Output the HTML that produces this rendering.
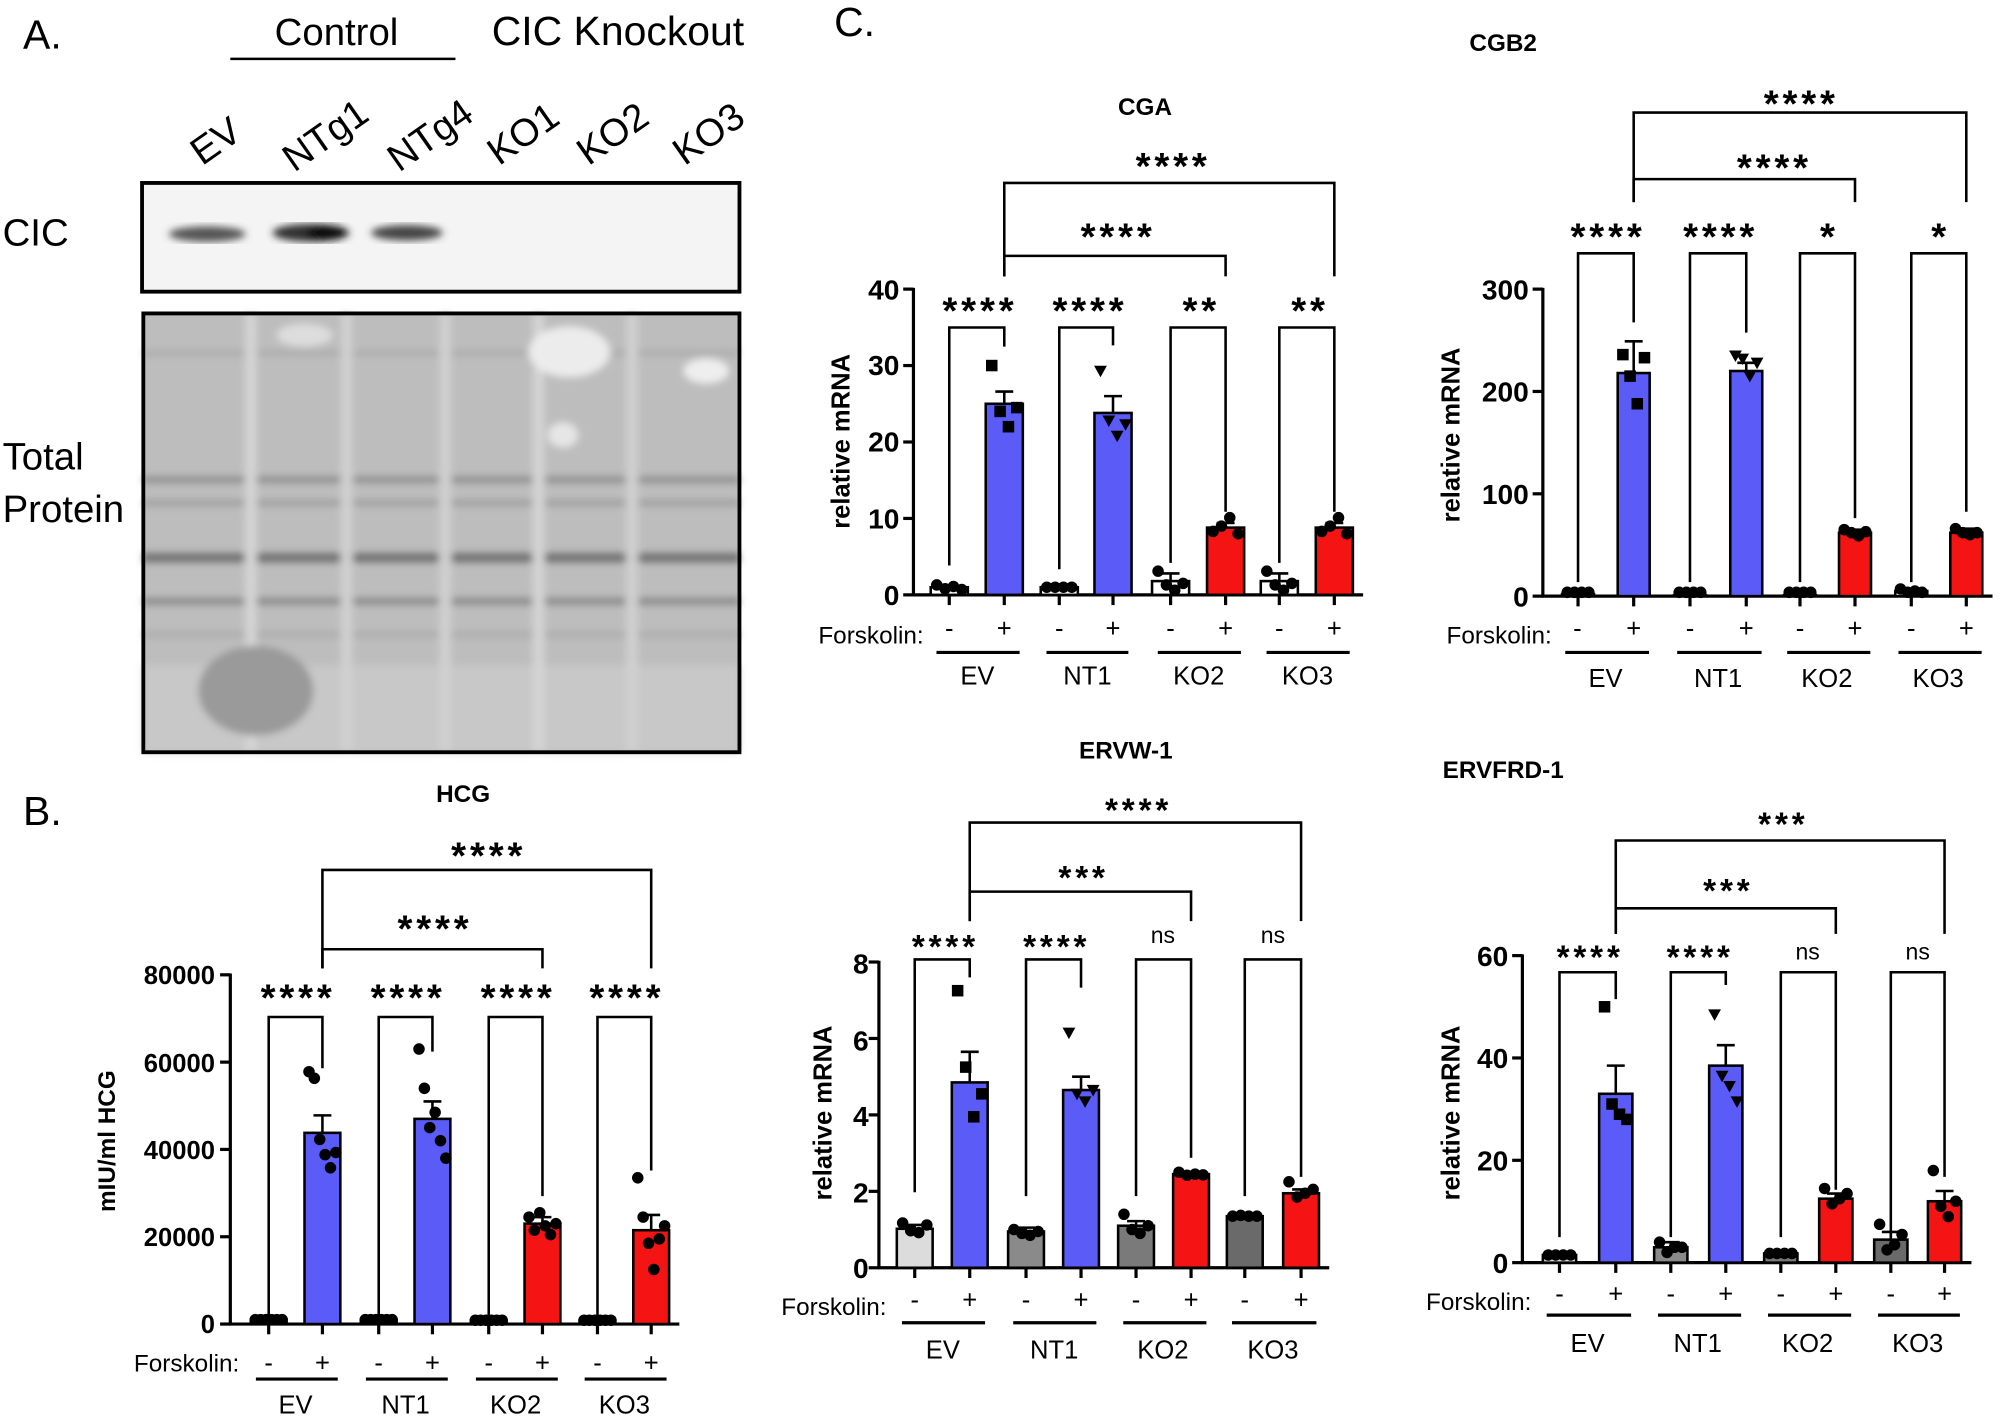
<!DOCTYPE html>
<html><head><meta charset="utf-8"><style>
html,body{margin:0;padding:0;background:#fff}
svg{display:block}
text{font-family:"Liberation Sans",Arial,sans-serif;fill:#000}
.b{font-weight:bold}
</style></head><body>
<svg id="s" width="2006" height="1420" viewBox="0 0 1568 1110" xmlns="http://www.w3.org/2000/svg">
<defs>
<filter id="bl"><feGaussianBlur stdDeviation="3"/></filter>
</defs>
<!-- Panel A -->
<text x="18" y="38" font-size="32">A.</text>
<text x="263" y="35" font-size="30" text-anchor="middle">Control</text>
<line x1="180" y1="46" x2="356" y2="46" stroke="#000" stroke-width="2"/>
<text x="483" y="35" font-size="32" text-anchor="middle">CIC Knockout</text>
<text transform="translate(158,130) rotate(-35)" font-size="30">EV</text>
<text transform="translate(230,135) rotate(-35)" font-size="30">NTg1</text>
<text transform="translate(312,135) rotate(-35)" font-size="30">NTg4</text>
<text transform="translate(390,130) rotate(-35)" font-size="30">KO1</text>
<text transform="translate(460,130) rotate(-35)" font-size="30">KO2</text>
<text transform="translate(535,130) rotate(-35)" font-size="30">KO3</text>
<text x="2" y="192" font-size="30">CIC</text>
<rect x="111" y="143" width="467" height="85" fill="#f4f4f4" stroke="#000" stroke-width="3"/>
<g filter="url(#bl)">
<ellipse cx="162" cy="183" rx="30" ry="6" fill="#555"/>
<ellipse cx="243" cy="182" rx="30" ry="7" fill="#333"/>
<ellipse cx="255" cy="182" rx="16" ry="6" fill="#111"/>
<ellipse cx="318" cy="182" rx="28" ry="6" fill="#444"/>
</g>
<text x="2" y="367" font-size="30">Total</text>
<text x="2" y="408" font-size="30">Protein</text>
<rect x="112" y="245" width="466" height="343" fill="#bdbdbd"/>
<g filter="url(#bl)" fill="none">
<line x1="112" y1="276" x2="578" y2="276" stroke-width="3" stroke="#a5a5a5"/>
<line x1="112" y1="375" x2="578" y2="375" stroke-width="5" stroke="#8d8d8d"/>
<line x1="112" y1="393" x2="578" y2="393" stroke-width="4" stroke="#999"/>
<line x1="112" y1="436" x2="578" y2="436" stroke-width="7" stroke="#6e6e6e"/>
<line x1="112" y1="470" x2="578" y2="470" stroke-width="5" stroke="#858585"/>
<line x1="112" y1="496" x2="578" y2="496" stroke-width="4" stroke="#aaa"/>
<rect x="112" y="520" width="466" height="68" fill="#c8c8c8" stroke="none"/>
<line x1="196" y1="245" x2="196" y2="588" stroke-width="9" stroke="#d4d4d4"/>
<line x1="271" y1="245" x2="271" y2="588" stroke-width="9" stroke="#d0d0d0"/>
<line x1="348" y1="245" x2="348" y2="588" stroke-width="9" stroke="#d0d0d0"/>
<line x1="421" y1="245" x2="421" y2="588" stroke-width="9" stroke="#d4d4d4"/>
<line x1="494" y1="245" x2="494" y2="588" stroke-width="9" stroke="#d0d0d0"/>
<ellipse cx="445" cy="275" rx="32" ry="20" fill="#ececec" stroke="none"/>
<ellipse cx="552" cy="290" rx="18" ry="10" fill="#eeeeee" stroke="none"/>
<ellipse cx="238" cy="262" rx="22" ry="9" fill="#dddddd" stroke="none"/>
<ellipse cx="200" cy="540" rx="45" ry="35" fill="#9a9a9a" stroke="none"/>
<ellipse cx="440" cy="340" rx="12" ry="10" fill="#e6e6e6" stroke="none"/>
</g>
<rect x="112" y="245" width="466" height="343" fill="none" stroke="#000" stroke-width="3"/>

<!-- Panel B text -->
<text x="18" y="645" font-size="32">B.</text>
<text x="362" y="627" font-size="19" class="b" text-anchor="middle">HCG</text>
<text transform="translate(90,892) rotate(-90)" font-size="19" class="b" text-anchor="middle">mIU/ml HCG</text>
<g font-size="20" class="b" text-anchor="end">
<text x="168" y="1042">0</text><text x="168" y="974">20000</text><text x="168" y="906">40000</text><text x="168" y="838">60000</text><text x="168" y="769">80000</text>
</g>
<g font-size="30" class="b" text-anchor="middle" letter-spacing="3">
<text x="233" y="790">****</text><text x="319" y="790">****</text><text x="405" y="790">****</text><text x="490" y="790">****</text>
<text x="340" y="736">****</text><text x="382" y="679">****</text>
</g>
<text x="187" y="1072" font-size="19" text-anchor="end">Forskolin:</text>
<g font-size="20" text-anchor="middle">
<text x="210" y="1072">-</text><text x="252" y="1072">+</text><text x="296" y="1072">-</text><text x="338" y="1072">+</text>
<text x="382" y="1072">-</text><text x="424" y="1072">+</text><text x="467" y="1072">-</text><text x="509" y="1072">+</text>
<text x="231" y="1105">EV</text><text x="317" y="1105">NT1</text><text x="403" y="1105">KO2</text><text x="488" y="1105">KO3</text>
</g>

<!-- Panel C -->
<text x="652" y="28" font-size="32">C.</text>
<!-- CGA -->
<text x="895" y="90" font-size="19" class="b" text-anchor="middle">CGA</text>
<text transform="translate(664,345) rotate(-90)" font-size="20" class="b" text-anchor="middle">relative mRNA</text>
<g font-size="22" class="b" text-anchor="end">
<text x="703" y="473">0</text><text x="703" y="413">10</text><text x="703" y="353">20</text><text x="703" y="293">30</text><text x="703" y="234">40</text>
</g>
<g font-size="30" class="b" text-anchor="middle" letter-spacing="3">
<text x="766" y="253">****</text><text x="852" y="253">****</text><text x="939" y="253">**</text><text x="1024" y="253">**</text>
<text x="874" y="195">****</text><text x="917" y="140">****</text>
</g>
<text x="722" y="503" font-size="19" text-anchor="end">Forskolin:</text>
<g font-size="20" text-anchor="middle">
<text x="742" y="498">-</text><text x="785" y="498">+</text><text x="828" y="498">-</text><text x="870" y="498">+</text>
<text x="915" y="498">-</text><text x="958" y="498">+</text><text x="1000" y="498">-</text><text x="1043" y="498">+</text>
<text x="764" y="535">EV</text><text x="850" y="535">NT1</text><text x="937" y="535">KO2</text><text x="1022" y="535">KO3</text>
</g>
<!-- CGB2 -->
<text x="1175" y="40" font-size="19" class="b" text-anchor="middle">CGB2</text>
<text transform="translate(1141,340) rotate(-90)" font-size="20" class="b" text-anchor="middle">relative mRNA</text>
<g font-size="22" class="b" text-anchor="end">
<text x="1195" y="474">0</text><text x="1195" y="394">100</text><text x="1195" y="314">200</text><text x="1195" y="234">300</text>
</g>
<g font-size="30" class="b" text-anchor="middle" letter-spacing="3">
<text x="1257" y="195">****</text><text x="1345" y="195">****</text><text x="1430" y="195">*</text><text x="1517" y="195">*</text>
<text x="1387" y="141">****</text><text x="1408" y="91">****</text>
</g>
<text x="1213" y="503" font-size="19" text-anchor="end">Forskolin:</text>
<g font-size="20" text-anchor="middle">
<text x="1233" y="498">-</text><text x="1277" y="498">+</text><text x="1321" y="498">-</text><text x="1365" y="498">+</text>
<text x="1407" y="498">-</text><text x="1450" y="498">+</text><text x="1494" y="498">-</text><text x="1537" y="498">+</text>
<text x="1255" y="537">EV</text><text x="1343" y="537">NT1</text><text x="1428" y="537">KO2</text><text x="1515" y="537">KO3</text>
</g>
<!-- ERVW-1 -->
<text x="880" y="593" font-size="19" class="b" text-anchor="middle">ERVW-1</text>
<text transform="translate(650,870) rotate(-90)" font-size="20" class="b" text-anchor="middle">relative mRNA</text>
<g font-size="22" class="b" text-anchor="end">
<text x="679" y="999">0</text><text x="679" y="940">2</text><text x="679" y="880">4</text><text x="679" y="821">6</text><text x="679" y="761">8</text>
</g>
<g font-size="26" class="b" text-anchor="middle" letter-spacing="3">
<text x="739" y="749">****</text><text x="826" y="749">****</text>
<text x="847" y="695">***</text><text x="890" y="642">****</text>
</g>
<g font-size="18" text-anchor="middle"><text x="909" y="737">ns</text><text x="995" y="737">ns</text></g>
<text x="693" y="1028" font-size="19" text-anchor="end">Forskolin:</text>
<g font-size="20" text-anchor="middle">
<text x="715" y="1023">-</text><text x="758" y="1023">+</text><text x="802" y="1023">-</text><text x="845" y="1023">+</text>
<text x="888" y="1023">-</text><text x="931" y="1023">+</text><text x="973" y="1023">-</text><text x="1017" y="1023">+</text>
<text x="737" y="1062">EV</text><text x="824" y="1062">NT1</text><text x="909" y="1062">KO2</text><text x="995" y="1062">KO3</text>
</g>
<!-- ERVFRD-1 -->
<text x="1175" y="608" font-size="19" class="b" text-anchor="middle">ERVFRD-1</text>
<text transform="translate(1141,870) rotate(-90)" font-size="20" class="b" text-anchor="middle">relative mRNA</text>
<g font-size="22" class="b" text-anchor="end">
<text x="1179" y="995">0</text><text x="1179" y="915">20</text><text x="1179" y="835">40</text><text x="1179" y="755">60</text>
</g>
<g font-size="26" class="b" text-anchor="middle" letter-spacing="3">
<text x="1243" y="757">****</text><text x="1329" y="757">****</text>
<text x="1351" y="705">***</text><text x="1394" y="653">***</text>
</g>
<g font-size="18" text-anchor="middle"><text x="1413" y="750">ns</text><text x="1499" y="750">ns</text></g>
<text x="1197" y="1024" font-size="19" text-anchor="end">Forskolin:</text>
<g font-size="20" text-anchor="middle">
<text x="1219" y="1018">-</text><text x="1263" y="1018">+</text><text x="1306" y="1018">-</text><text x="1349" y="1018">+</text>
<text x="1392" y="1018">-</text><text x="1435" y="1018">+</text><text x="1478" y="1018">-</text><text x="1520" y="1018">+</text>
<text x="1241" y="1057">EV</text><text x="1327" y="1057">NT1</text><text x="1413" y="1057">KO2</text><text x="1499" y="1057">KO3</text>
</g>
<g id="g"></g>
</svg>
<script>
var NS="http://www.w3.org/2000/svg",G=document.getElementById("g");
function el(t,a){var e=document.createElementNS(NS,t);for(var k in a)e.setAttribute(k,a[k]);G.appendChild(e);return e;}
function ln(x1,y1,x2,y2,w){el("line",{x1:x1,y1:y1,x2:x2,y2:y2,stroke:"#000","stroke-width":w||2});}
function pl(p){el("polyline",{points:p,fill:"none",stroke:"#000","stroke-width":2});}
var B="#5b5bf7",R="#f51414";
function chart(c){
 var ax=c.ax,y0=c.y0,yt=c.yt,max=c.max,sc=(y0-yt)/max,bw=c.bw||28;
 var xs=c.xs;
 ln(ax,yt-1,ax,y0+1,2.5);ln(ax-1,y0,xs[7]+bw/2+8,y0,2.5);
 for(var i=0;i<=c.nt;i++){var y=y0-(y0-yt)*i/c.nt;ln(ax-8,y,ax,y,2.5);}
 for(var i=0;i<8;i++){ln(xs[i],y0,xs[i],y0+8,2.5);}
 for(var i=0;i<8;i++){
  var v=c.v[i],y=y0-v*sc,x=xs[i],col=c.col[i];
  el("rect",{x:x-bw/2,y:y,width:bw,height:y0-y,fill:col,stroke:"#000","stroke-width":2});
  var e=c.e[i]*sc;
  if(e>1){ln(x,y,x,y-e,2);ln(x-7,y-e,x+7,y-e,2);}
  var sh=c.sh?c.sh[Math.floor(i/2)]:"ci";
  var n=c.n||4;
  for(var k=0;k<n;k++){
   var dx=(k-(n-1)/2)*(bw/n)*0.9,dv=c.spread?c.spread[i][k]:0;
   var py=y0-(v+dv)*sc;
   if(i%2==0||sh=="ci"){el("circle",{cx:x+dx,cy:Math.min(py,y0-3),r:4.5,fill:"#000"});}
   else if(sh=="sq"){el("rect",{x:x+dx-4.5,y:py-4.5,width:9,height:9,fill:"#000"});}
   else{el("polygon",{points:(x+dx-5)+","+(py-4)+" "+(x+dx+5)+","+(py-4)+" "+(x+dx)+","+(py+5),fill:"#000"});}
  }
 }
 for(var g=0;g<4;g++){var a=xs[2*g],b=xs[2*g+1],by=c.pb;pl(a+","+c.pa[2*g]+" "+a+","+by+" "+b+","+by+" "+b+","+c.pa[2*g+1]);}
 var low=c.pb-c.gap;
 c.lb.forEach(function(l){pl(xs[1]+","+low+" "+xs[1]+","+l[0]+" "+xs[l[1]]+","+l[0]+" "+xs[l[1]]+","+low);});
 for(var g=0;g<4;g++){ln(xs[2*g]-10,c.ul,xs[2*g+1]+12,c.ul,2.5);}
}
chart({ax:180,y0:1035,yt:762,max:80000,nt:4,xs:[210,252,296,338,382,424,467,509],bw:28,n:6,gap:38,
 v:[1000,43800,1000,47000,800,23000,800,21500],e:[200,4000,200,4000,200,1500,200,3500],
 col:["#fff",B,"#fff",B,"#fff",R,"#fff",R],
 spread:[[0,0,0,0,0,0],[14000,12500,-1500,-5000,-8000,-4500],[0,0,0,0,0,0],[16000,7000,-2000,1500,-5000,-9000],[0,0,0,0,0,0],[1500,-1500,2500,-500,-2500,0],[0,0,0,0,0,0],[12000,3000,-3000,-9000,-2000,1000]],
 pa:[1028,835,1028,822,1028,935,1028,915],pb:795,lb:[[742,5],[680,7]],ul:1078});
chart({ax:714,y0:465,yt:226,max:40,nt:4,xs:[742,785,828,870,915,958,1000,1043],bw:29,sh:["sq","tri","ci","ci"],gap:40,
 v:[1,25,1,23.8,1.8,8.8,1.8,8.8],e:[.2,1.6,.2,2.2,1,.6,1,.6],col:["#fff",B,"#fff",B,"#fff",R,"#fff",R],
 spread:[[.3,-.2,.1,-.3],[5,-1,-3,-.5],[0,0,0,0],[5.5,-1,-3,-1.5],[1.3,-.5,-1.2,-.3],[-.5,.2,1.3,-.8],[1.3,-.5,-1.2,-.3],[-.5,.2,1.3,-.8]],
 pa:[442,271,445,270,440,400,440,400],pb:256,lb:[[200,5],[143,7]],ul:510});
chart({ax:1206,y0:466,yt:226,max:300,nt:3,xs:[1233.5,1277,1321,1365,1407,1450,1494,1537],bw:25,sh:["sq","tri","ci","ci"],gap:40,
 v:[2,218,1,220,1,62,5,62],e:[.5,31,.5,8,.3,3,2,4],col:["#fff",B,"#fff",B,"#fff",R,"#fff",R],
 spread:[[0,0,0,0],[18,-3,-30,15],[0,0,0,0],[15,12,-5,8],[0,0,0,0],[3,0,-3,1],[2,-2,0,-3],[4,0,-2,0]],
 pa:[455,252,455,260,455,405,455,400],pb:198,lb:[[140,5],[88,7]],ul:510});
chart({ax:687,y0:991,yt:752,max:8,nt:4,xs:[715,758,802,845,888,931,973,1017],bw:28,sh:["sq","tri","ci","ci"],gap:30,
 v:[1.02,4.85,.95,4.65,1.1,2.45,1.35,1.95],e:[.1,.8,.1,.35,.12,.05,.03,.1],col:["#dcdcdc",B,"#8a8a8a",B,"#7a7a7a",R,"#6a6a6a",R],
 spread:[[.15,-.05,-.1,.1],[2.4,.4,-.9,-.3],[.05,-.05,-.1,0],[1.5,-.1,-.3,0],[.3,-.1,-.2,0],[.05,-.03,0,-.02],[0,.02,0,0],[.3,-.1,0,.1]],
 pa:[932,764,935,772,935,905,935,920],pb:750,lb:[[697,5],[643,7]],ul:1034});
chart({ax:1190,y0:987,yt:747,max:60,nt:3,xs:[1219,1263,1306,1349,1392,1435,1478,1520],bw:26,sh:["sq","tri","ci","ci"],gap:30,
 v:[1.5,33,3,38.5,1.8,12.5,4.5,12],e:[.3,5.5,1,4,.3,1,1.5,2],col:["#dcdcdc",B,"#8a8a8a",B,"#7a7a7a",R,"#6a6a6a",R],
 spread:[[0,0,0,0],[17,-2,-4,-5],[1,-1,0,0],[10,-2,-4,-7],[0,0,0,0],[2,-1,0,1],[3,-2,-1,1],[6,-1,-3,0]],
 pa:[967,781,967,770,967,930,967,920],pb:760,lb:[[710,5],[657,7]],ul:1028});
</script>
</body></html>
